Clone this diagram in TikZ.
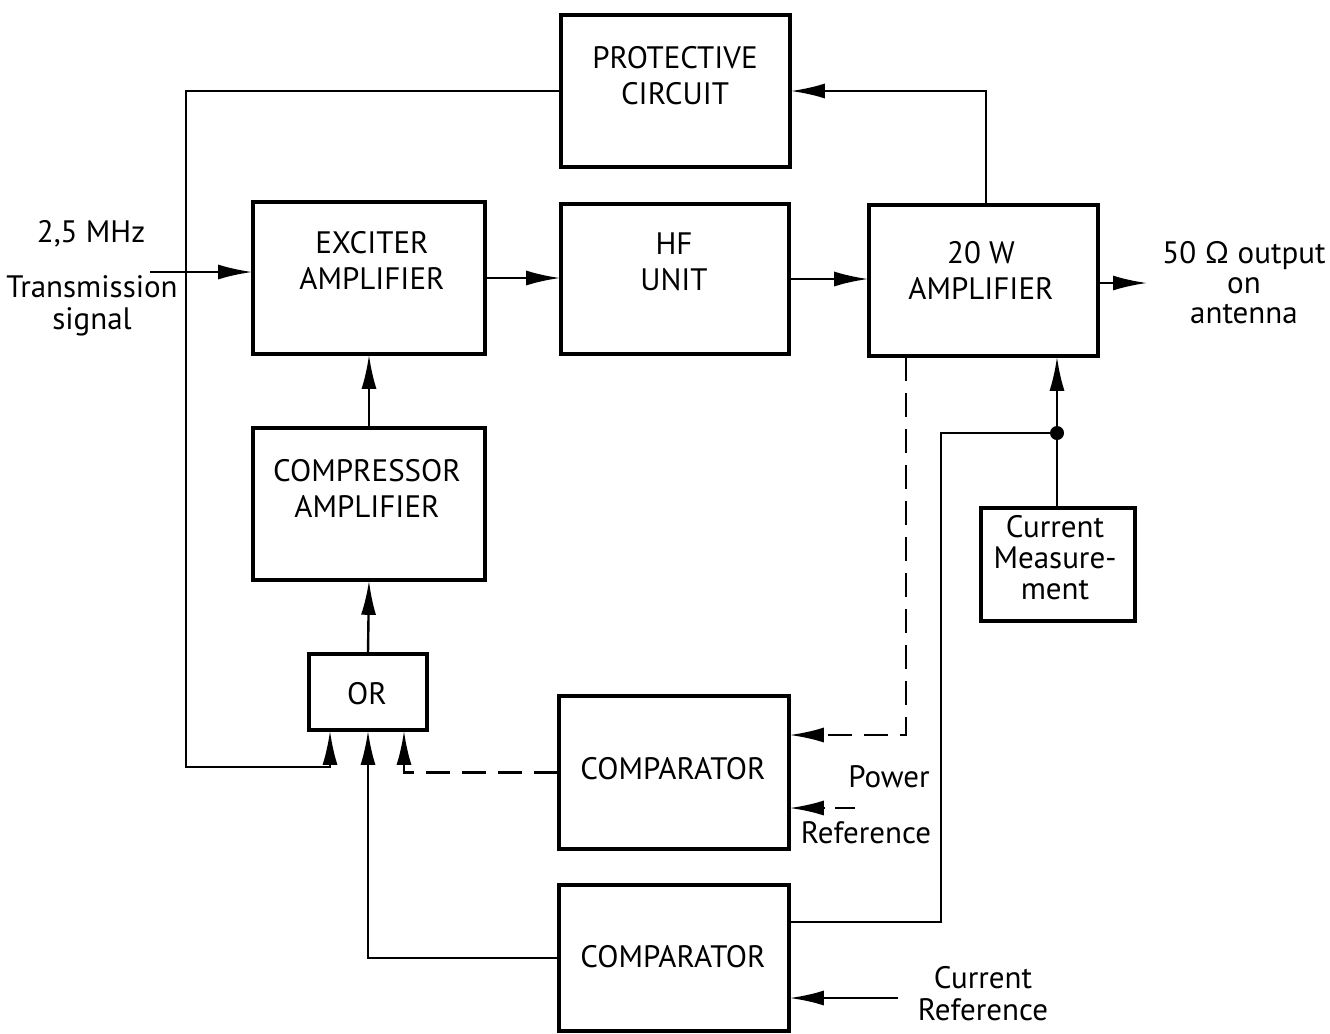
\documentclass[tikz,border=0pt]{standalone}
\usepackage{fontspec}
\setmainfont{PT Sans}
\usetikzlibrary{arrows.meta,calc}
\begin{document}
\begin{tikzpicture}[x=0.5pt,y=-0.5pt,
  box/.style={draw, line width=2.4pt, inner sep=0pt, outer sep=0.4pt},
  txt/.style={align=center, inner sep=0pt, font=\fontsize{15.5}{18}\selectfont},
  lbl/.style={align=center, inner sep=0pt, font=\fontsize{15.5}{16}\selectfont},
  conn/.style={line width=1.2pt},
  arr/.style={line width=1.2pt, -{Latex[length=17pt,width=7.5pt]}},
  dsh/.style={dash pattern=on 12pt off 6pt}
]
\useasboundingbox (0,0) rectangle (1330,1034);
% boxes
\node[box, minimum width=114.5pt, minimum height=76pt] (prot) at (675.5,91) {};
\node[txt] (prott) at (675,76) {PROTECTIVE\\CIRCUIT};
\node[box, minimum width=116pt, minimum height=76pt] (exc) at (369,278) {};
\node[txt] (exct) at (372,260) {EXCITER\\AMPLIFIER};
\node[box, minimum width=114pt, minimum height=75pt] (hf) at (675,279) {};
\node[txt] (hft) at (674,262) {HF\\UNIT};
\node[box, minimum width=114.5pt, minimum height=75.5pt] (amp) at (983.5,280.5) {};
\node[txt] (ampt) at (981,270) {20 W\\AMPLIFIER};
\node[box, minimum width=116pt, minimum height=76pt] (cmp) at (369,504) {};
\node[txt] (cmpt) at (367,488) {COMPRESSOR\\AMPLIFIER};
\node[box, minimum width=59pt, minimum height=38pt] (or) at (368,692) {};
\node[txt] (ort) at (367,694) {OR};
\node[box, minimum width=115pt, minimum height=76.5pt] (c1) at (674,772.5) {};
\node[txt] (c1t) at (673,769) {COMPARATOR};
\node[box, minimum width=115pt, minimum height=73pt] (c2) at (674,958) {};
\node[txt] (c2t) at (673,957) {COMPARATOR};
\node[box, minimum width=77pt, minimum height=56.5pt] (cm) at (1058,564.5) {};
\node[lbl, font=\fontsize{15.5}{15.5}\selectfont] (cmt) at (1055,558) {Current\\Measure-\\ment};
% labels
\node[lbl] (mhz) at (91,234) {2,5 MHz};
\node[lbl] (trans) at (92,306) {Transmission\\signal};
\node[lbl, font=\fontsize{15.5}{15}\selectfont] (outl) at (1244,283) {50 Ω output\\on\\antenna};
\node[lbl] (pwr) at (889,777) {Power};
\node[lbl] (pref) at (866,833) {Reference};
\node[lbl] (cref) at (983,994) {Current\\Reference};
% coordinates
\coordinate (tin) at (150,272);
\coordinate (out) at (1147,283);
\coordinate (pl) at (186,767);
\coordinate (rc2) at (941,433);
\coordinate (dot) at (1057,433);
\coordinate (pr) at (855,808);
\coordinate (cr) at (898,998);
% connectors
\draw[arr] (tin) -- (tin -| exc.west);
\draw[arr] (exc.east) -- (exc.east -| hf.west);
\draw[arr] (hf.east) -- (hf.east -| amp.west);
\draw[arr] (out -| amp.east) -- (out);
\draw[arr] ([xshift=1.25pt]amp.north) |- (prot.east);
\draw[arr] (prot.west) -| (pl) -| ([xshift=-19pt]or.south);
\draw[arr] (cmp.north) -- (exc.south);
\draw[arr] (or.north) -- (cmp.south);
\draw[arr, dsh] (c1.west) -| ([xshift=18pt]or.south);
\draw[arr] (c2.west) -| (or.south);
\draw[arr, dsh] ([xshift=-38.75pt]amp.south) |- ([yshift=18.75pt]c1.east);
\draw[arr, dash pattern=on 10pt off 5pt] (pr) -- (pr -| c1.east);
\draw[arr] (cr) -- (cr -| c2.east);
\draw[conn] ([yshift=18pt]c2.east) -| (rc2) -- (dot);
\draw[arr] (cm.north -| dot) -- (dot) -- (dot |- amp.south);
\fill (dot) circle (3.5pt);
\end{tikzpicture}
\end{document}
